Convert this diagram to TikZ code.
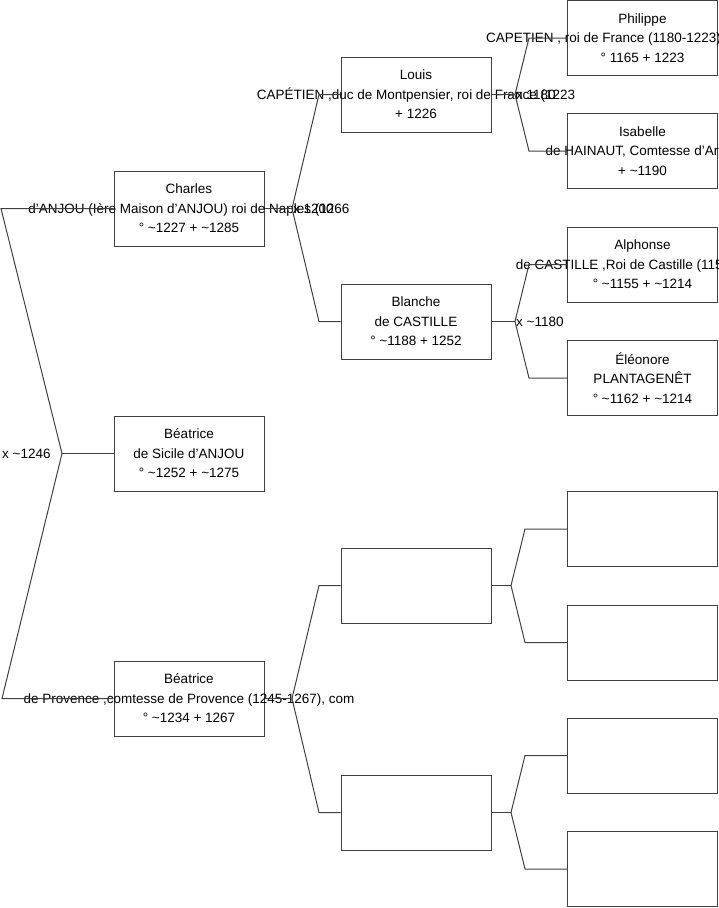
\documentclass[tikz,border=0pt]{standalone}
\usepackage{fontspec}
\setmainfont{Liberation Sans}
\newcommand{\tld}{\textasciitilde}

\begin{document}
\begin{tikzpicture}[x=1pt,y=-1pt]
\tikzset{
  person/.style={draw=black!75,line width=1pt,minimum width=150pt,minimum height=75pt,inner sep=0pt},
  persontext/.style={align=center,inner sep=0pt,font=\fontsize{13.5}{19.5}\selectfont},
  link/.style={draw=black!75,line width=1pt},
  union/.style={anchor=west,inner sep=0pt,font=\fontsize{13.5}{15}\selectfont}
}
\useasboundingbox (0,0) rectangle (719,908);

% first generation
\node[person,label={[persontext]center:{Charles\\d'ANJOU (Ière Maison d'ANJOU) roi de Naples (1266\\° \tld1227 + \tld1285}}] (p_charles) at (189,208.5) {};
\node[person,label={[persontext]center:{Béatrice\\de Sicile d'ANJOU\\° \tld1252 + \tld1275}}] (p_beatrice) at (189,453.5) {};
\node[person,label={[persontext]center:{Béatrice\\de Provence ,comtesse de Provence (1245-1267), com\\° \tld1234 + 1267}}] (p_provence) at (189,698.5) {};

% second generation
\node[person,label={[persontext]center:{Louis\\CAPÉTIEN ,duc de Montpensier, roi de France (1223\\+ 1226}}] (p_louis) at (416,94.5) {};
\node[person,label={[persontext]center:{Blanche\\de CASTILLE\\° \tld1188 + 1252}}] (p_blanche) at (416,321.5) {};
\node[person] (p_empty1) at (416,585.5) {};
\node[person] (p_empty2) at (416,812.5) {};

% third generation
\node[person,label={[persontext]center:{Philippe\\CAPETIEN , roi de France (1180-1223)\rule{78pt}{0pt}\\° 1165 + 1223}}] (p_philippe) at (642.5,38) {};
\node[person,label={[persontext]center:{Isabelle\\de HAINAUT, Comtesse d'Artois\\+ \tld1190}}] (p_isabelle) at (642.5,151) {};
\node[person,label={[persontext]center:{Alphonse\\de CASTILLE ,Roi de Castille (1158-1214)\\° \tld1155 + \tld1214}}] (p_alphonse) at (642.5,264.5) {};
\node[person,label={[persontext]center:{Éléonore\\PLANTAGENÊT\\° \tld1162 + \tld1214}}] (p_eleonore) at (642.5,378) {};
\node[person] (p_empty3) at (642.5,529) {};
\node[person] (p_empty4) at (642.5,642.5) {};
\node[person] (p_empty5) at (642.5,755.5) {};
\node[person] (p_empty6) at (642.5,869) {};

% fork points
\coordinate (v_root) at (62,453.5);
\coordinate (c_root_up) at (1,208.5);
\coordinate (c_root_down) at (2,698.5);
\coordinate (v_charles) at (292,208.5);
\coordinate (c_charles_up) at (319,94.5);
\coordinate (c_charles_down) at (319,321.5);
\coordinate (v_provence) at (292,698.5);
\coordinate (c_provence_up) at (319,585.5);
\coordinate (c_provence_down) at (319,812.5);
\coordinate (v_louis) at (515,94.5);
\coordinate (c_louis_up) at (529,38);
\coordinate (c_louis_down) at (529,151);
\coordinate (v_blanche) at (515,321.5);
\coordinate (c_blanche_up) at (529,264.5);
\coordinate (c_blanche_down) at (529,378);
\coordinate (v_empty1) at (511,585.5);
\coordinate (c_empty1_up) at (525,529);
\coordinate (c_empty1_down) at (525,642.5);
\coordinate (v_empty2) at (511,812.5);
\coordinate (c_empty2_up) at (525,755.5);
\coordinate (c_empty2_down) at (525,869);

% connectors
\draw[link] (p_charles.west) -- (c_root_up) -- (v_root) -- (c_root_down) -- (p_provence.west);
\draw[link] (v_root) -- (p_beatrice.west);
\draw[link] (p_charles.east) -- (v_charles);
\draw[link] (p_louis.west) -- (c_charles_up) -- (v_charles) -- (c_charles_down) -- (p_blanche.west);
\draw[link] (p_provence.east) -- (v_provence);
\draw[link] (p_empty1.west) -- (c_provence_up) -- (v_provence) -- (c_provence_down) -- (p_empty2.west);
\draw[link] (p_louis.east) -- (v_louis);
\draw[link] (p_philippe.west) -- (c_louis_up) -- (v_louis) -- (c_louis_down) -- (p_isabelle.west);
\draw[link] (p_blanche.east) -- (v_blanche);
\draw[link] (p_alphonse.west) -- (c_blanche_up) -- (v_blanche) -- (c_blanche_down) -- (p_eleonore.west);
\draw[link] (p_empty1.east) -- (v_empty1);
\draw[link] (p_empty3.west) -- (c_empty1_up) -- (v_empty1) -- (c_empty1_down) -- (p_empty4.west);
\draw[link] (p_empty2.east) -- (v_empty2);
\draw[link] (p_empty5.west) -- (c_empty2_up) -- (v_empty2) -- (c_empty2_down) -- (p_empty6.west);

% marriages
\node[union] (m_root) at (2,453.5) {x \tld1246};
\node[union] (m_charles) at (293,208.5) {x 1200};
\node[union] (m_louis) at (516,94.5) {x 1180};
\node[union] (m_blanche) at (516,321.5) {x \tld1180};
\end{tikzpicture}
\end{document}
